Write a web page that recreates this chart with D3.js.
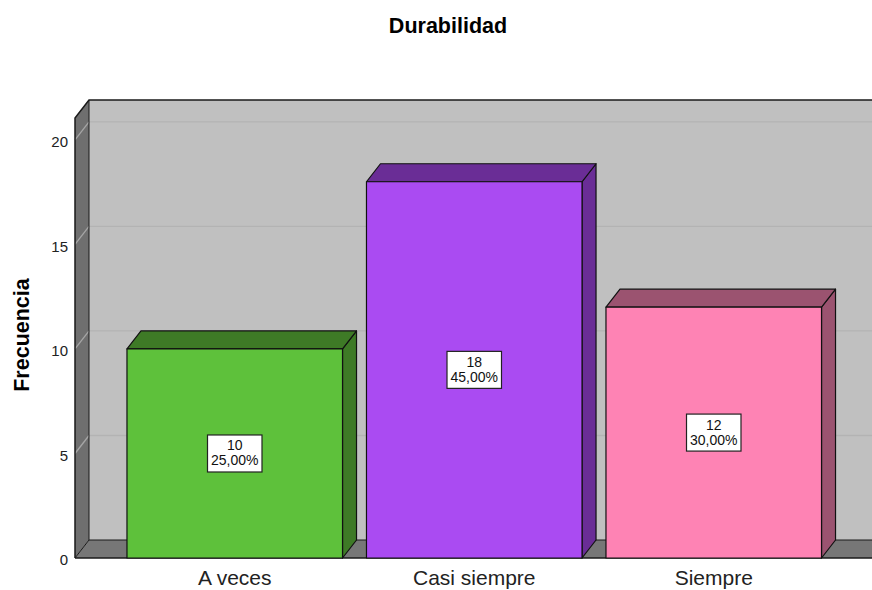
<!DOCTYPE html>
<html>
<head>
<meta charset="utf-8">
<script src="https://cdn.jsdelivr.net/npm/d3@7"></script>
<style>
    body { margin: 0; background: #fff; }
    text { font-family: "Liberation Sans", Arial, sans-serif; }
</style>
</head>
<body>
<svg id="chart" width="872" height="590"></svg>
<script>
let categories = ["A veces", "Casi siempre", "Siempre"]
let counts = [10, 18, 12]
let yTicks = [0, 5, 10, 15, 20]

// front / top / side colours per bar
let frontColors = ["#5ec13b", "#aa4bf2", "#fe83b4"]
let shadeColors = ["#3e7a26", "#6a2d96", "#9b5370"]

let svg = d3.select("#chart")

let depthX = 14, depthY = 18
let left = 75, right = 900

let yScale = d3.scaleLinear([0, 21.05], [558, 118])
let xScale = d3.scaleBand(categories, [115, 833.5]).paddingInner(0.1).paddingOuter(0.05)

let total = d3.sum(counts)
let pct = v => d3.format(".2f")(v / total * 100).replace(".", ",") + "%"

let y0 = yScale(0), yTop = yScale.range()[1]

// back wall
svg.append("rect")
    .attr("x", left + depthX).attr("y", yTop - depthY)
    .attr("width", right - left).attr("height", y0 - yTop)
    .attr("fill", "#c0c0c0")

// left wall
svg.append("polygon")
    .attr("points", [[left, yTop], [left + depthX, yTop - depthY], [left + depthX, y0 - depthY], [left, y0]].join(" "))
    .attr("fill", "#6f6f6f")

// floor
svg.append("polygon")
    .attr("points", [[left, y0], [left + depthX, y0 - depthY], [right, y0 - depthY], [right, y0]].join(" "))
    .attr("fill", "#777777")

// grid lines
let grid = svg.append("g")
grid.selectAll(".gb")
    .data(yTicks.filter(d => d > 0))
    .enter()
    .append("line")
    .attr("x1", left + depthX).attr("x2", right)
    .attr("y1", d => yScale(d) - depthY).attr("y2", d => yScale(d) - depthY)
    .attr("stroke", "#b3b3b3").attr("stroke-width", 1.3)
grid.selectAll(".gl")
    .data(yTicks.filter(d => d > 0))
    .enter()
    .append("line")
    .attr("x1", left).attr("x2", left + depthX)
    .attr("y1", d => yScale(d)).attr("y2", d => yScale(d) - depthY)
    .attr("stroke", "#a6a6a6").attr("stroke-width", 1.3)

// frame outlines
let frame = svg.append("g").attr("fill", "none").attr("stroke", "#1a1a1a").attr("stroke-width", 1.5)
frame.append("path").attr("d", `M${left},${y0}L${left},${yTop}L${left + depthX},${yTop - depthY}L${right},${yTop - depthY}`)
frame.append("path").attr("d", `M${left + depthX},${yTop - depthY}L${left + depthX},${y0 - depthY}L${right},${y0 - depthY}`)
    .attr("stroke-width", 1)
frame.append("path").attr("d", `M${left},${y0}L${left + depthX},${y0 - depthY}`).attr("stroke-width", 1)
frame.append("line").attr("x1", left).attr("x2", right).attr("y1", y0).attr("y2", y0)

// bars
let bars = svg.selectAll(".bar")
    .data(categories)
    .enter()
    .append("g")
    .attr("stroke", "#111").attr("stroke-width", 1.2).attr("stroke-linejoin", "round")

bars.append("polygon")
    .attr("points", (d, i) => {
        let x = xScale(d), w = xScale.bandwidth(), y = yScale(counts[i])
        return [[x + w, y], [x + w + depthX, y - depthY], [x + w + depthX, y0 - depthY], [x + w, y0]].join(" ")
    })
    .attr("fill", (d, i) => shadeColors[i])
bars.append("polygon")
    .attr("points", (d, i) => {
        let x = xScale(d), w = xScale.bandwidth(), y = yScale(counts[i])
        return [[x, y], [x + depthX, y - depthY], [x + w + depthX, y - depthY], [x + w, y]].join(" ")
    })
    .attr("fill", (d, i) => shadeColors[i])
bars.append("rect")
    .attr("x", d => xScale(d))
    .attr("y", (d, i) => yScale(counts[i]))
    .attr("width", xScale.bandwidth())
    .attr("height", (d, i) => y0 - yScale(counts[i]))
    .attr("fill", (d, i) => frontColors[i])

// value labels (count on top, percent below, white box)
categories.forEach((c, i) => {
    let cx = xScale(c) + xScale.bandwidth() / 2
    let cy = (yScale(counts[i]) + y0) / 2
    let g = svg.append("g").attr("font-size", 14).attr("fill", "#111").attr("text-anchor", "middle")
    let box = g.append("rect")
    g.append("text").attr("x", cx).attr("y", cy - 3).text(counts[i])
    let t2 = g.append("text").attr("x", cx).attr("y", cy + 12).text(pct(counts[i]))
    let w = t2.node().getComputedTextLength()
    box.attr("x", cx - w / 2 - 3.5).attr("y", cy - 18.5)
        .attr("width", w + 7).attr("height", 37)
        .attr("fill", "#fff").attr("stroke", "#222").attr("stroke-width", 1.2)
})

// y tick labels
svg.selectAll(".ytick")
    .data(yTicks)
    .enter()
    .append("text")
    .attr("x", 68)
    .attr("y", d => yScale(d) + 2)
    .attr("dy", "0.35em")
    .attr("text-anchor", "end")
    .attr("font-size", 15)
    .attr("fill", "#222")
    .text(d => d)

// category labels
svg.selectAll(".xlab")
    .data(categories)
    .enter()
    .append("text")
    .attr("x", d => xScale(d) + xScale.bandwidth() / 2)
    .attr("y", 585)
    .attr("text-anchor", "middle")
    .attr("font-size", 21)
    .attr("fill", "#222")
    .text(d => d)

// title and axis title
svg.append("text")
    .attr("x", 448).attr("y", 33)
    .attr("text-anchor", "middle")
    .attr("font-size", 21.5).attr("font-weight", "bold")
    .text("Durabilidad")

svg.append("text")
    .attr("transform", "translate(29,335) rotate(-90)")
    .attr("text-anchor", "middle")
    .attr("font-size", 21.5).attr("font-weight", "bold")
    .text("Frecuencia")
</script>
</body>
</html>
